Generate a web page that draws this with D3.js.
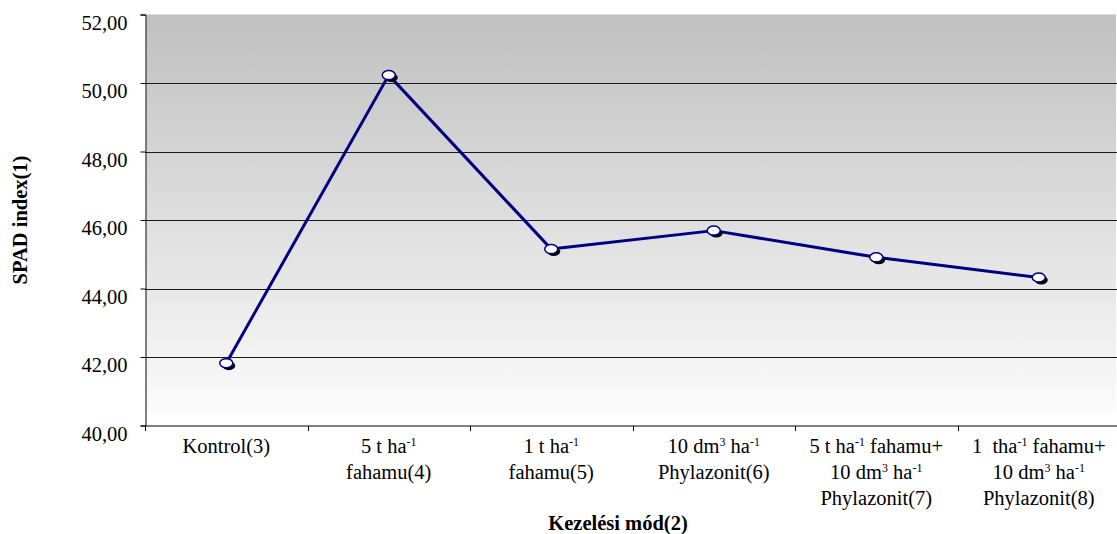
<!DOCTYPE html>
<html>
<head>
<meta charset="utf-8">
<script src="https://cdn.jsdelivr.net/npm/d3@7"></script>
<style>
  html, body { margin: 0; padding: 0; background: #fff; }
  svg { display: block; }
</style>
</head>
<body>
<svg id="chart" width="1117" height="534"></svg>
<script>
// ---- data ----
const categories = [
  ["Kontrol(3)"],
  ["5 t ha^{-1}", "fahamu(4)"],
  ["1 t ha^{-1}", "fahamu(5)"],
  ["10 dm^{3} ha^{-1}", "Phylazonit(6)"],
  ["5 t ha^{-1} fahamu+", "10 dm^{3} ha^{-1}", "Phylazonit(7)"],
  ["1  tha^{-1} fahamu+", "10 dm^{3} ha^{-1}", "Phylazonit(8)"]
];
const spadValues = [41.82, 50.23, 45.15, 45.69, 44.91, 44.32];
const yTicks = [40, 42, 44, 46, 48, 50, 52];
const yTitle = "SPAD index(1)";
const xTitle = "Kezelési mód(2)";

// ---- layout ----
const FONT = "'Liberation Serif', 'Times New Roman', Times, serif";
const svg = d3.select("#chart");
const pLeft = 145, pRight = 1120, pTop = 14.5, pBottom = 425.5;
const ids = categories.map((c, i) => i);

const x = d3.scaleBand().domain(ids).range([pLeft, pRight]).padding(0);
const xc = i => x(i) + x.bandwidth() / 2;
const y = d3.scaleLinear().domain([40, 52]).range([pBottom, pTop]);
const fmt = v => d3.format(".2f")(v).replace(".", ",");

// background gradient
const defs = svg.append("defs");
const grad = defs.append("linearGradient").attr("id", "bg")
  .attr("x1", 0).attr("y1", 0).attr("x2", 0).attr("y2", 1);
grad.append("stop").attr("offset", "0%").attr("stop-color", "#c0c0c0");
grad.append("stop").attr("offset", "100%").attr("stop-color", "#fbfbfb");

svg.append("rect")
  .attr("x", pLeft + 1.5).attr("y", pTop)
  .attr("width", 1116 - pLeft - 1.5).attr("height", 413 - pTop)
  .attr("fill", "url(#bg)");

// gridlines
svg.append("g").selectAll("line")
  .data(yTicks.filter(v => v > 40 && v < 52))
  .join("line")
  .attr("x1", pLeft).attr("x2", 1117)
  .attr("y1", d => Math.round(y(d)) + 0.5).attr("y2", d => Math.round(y(d)) + 0.5)
  .attr("stroke", "#1a1a1a").attr("stroke-width", 1);

// y axis
const yAxis = svg.append("g").attr("transform", `translate(${pLeft + 0.5},0)`)
  .call(d3.axisLeft(y).tickValues(yTicks).tickSize(5).tickFormat(fmt));
yAxis.attr("font-family", FONT).attr("font-size", 20.5);
yAxis.select(".domain").attr("stroke", "#000");
yAxis.selectAll(".tick line").attr("stroke", "#000");
yAxis.selectAll(".tick text")
  .attr("x", -18).attr("dy", "0.32em").attr("y", 8)
  .attr("fill", "#000")
  .attr("font-family", FONT)
  .attr("font-size", 20.5);

// x axis
const xAxisG = svg.append("g").attr("transform", `translate(0,${pBottom + 0.5})`);
xAxisG.append("line").attr("x1", pLeft).attr("x2", 1117)
  .attr("y1", 0).attr("y2", 0).attr("stroke", "#000");
const boundaries = ids.map(i => x(i)).concat([pRight]);
xAxisG.selectAll("line.tk").data(boundaries).join("line").attr("class", "tk")
  .attr("x1", d => Math.round(d) + 0.5).attr("x2", d => Math.round(d) + 0.5)
  .attr("y1", 0).attr("y2", 5).attr("stroke", "#000");

// category labels with superscripts
const baseLines = [453, 479, 505];
const labels = svg.append("g");
categories.forEach((lines, i) => {
  lines.forEach((ln, j) => {
    const t = labels.append("text")
      .attr("x", xc(i)).attr("y", baseLines[j])
      .attr("text-anchor", "middle")
      .attr("font-family", FONT)
      .attr("font-size", 20.5)
      .attr("fill", "#000")
      .style("white-space", "pre");
    const parts = ln.split(/\^\{([^}]*)\}/);
    parts.forEach((p, k) => {
      if (p === "") return;
      if (k % 2 === 1) {
        t.append("tspan").attr("baseline-shift", "super")
          .attr("font-size", 12).text(p);
      } else {
        t.append("tspan").text(p);
      }
    });
  });
});

// titles
svg.append("text")
  .attr("x", 618).attr("y", 530)
  .attr("text-anchor", "middle")
  .attr("font-family", FONT)
  .attr("font-size", 20.5).attr("font-weight", "bold")
  .text(xTitle);
svg.append("text")
  .attr("transform", `translate(27,220) rotate(-90)`)
  .attr("text-anchor", "middle")
  .attr("font-family", FONT)
  .attr("font-size", 20.5).attr("font-weight", "bold")
  .text(yTitle);

// line
const line = d3.line().x((d, i) => xc(i)).y(d => y(d));
svg.append("path").datum(spadValues)
  .attr("d", line)
  .attr("fill", "none").attr("stroke", "#000080")
  .attr("stroke-width", 3).attr("stroke-linejoin", "round");

// markers with shadow
const mk = svg.append("g");
mk.selectAll("ellipse.sh").data(spadValues).join("ellipse").attr("class", "sh")
  .attr("cx", (d, i) => xc(i) + 2.5).attr("cy", d => y(d) + 2.5)
  .attr("rx", 6.5).attr("ry", 4.5).attr("fill", "#000");
mk.selectAll("ellipse.pt").data(spadValues).join("ellipse").attr("class", "pt")
  .attr("cx", (d, i) => xc(i)).attr("cy", d => y(d))
  .attr("rx", 6.5).attr("ry", 4.5)
  .attr("fill", "#fff").attr("stroke", "#000080").attr("stroke-width", 1.5);
</script>
</body>
</html>
